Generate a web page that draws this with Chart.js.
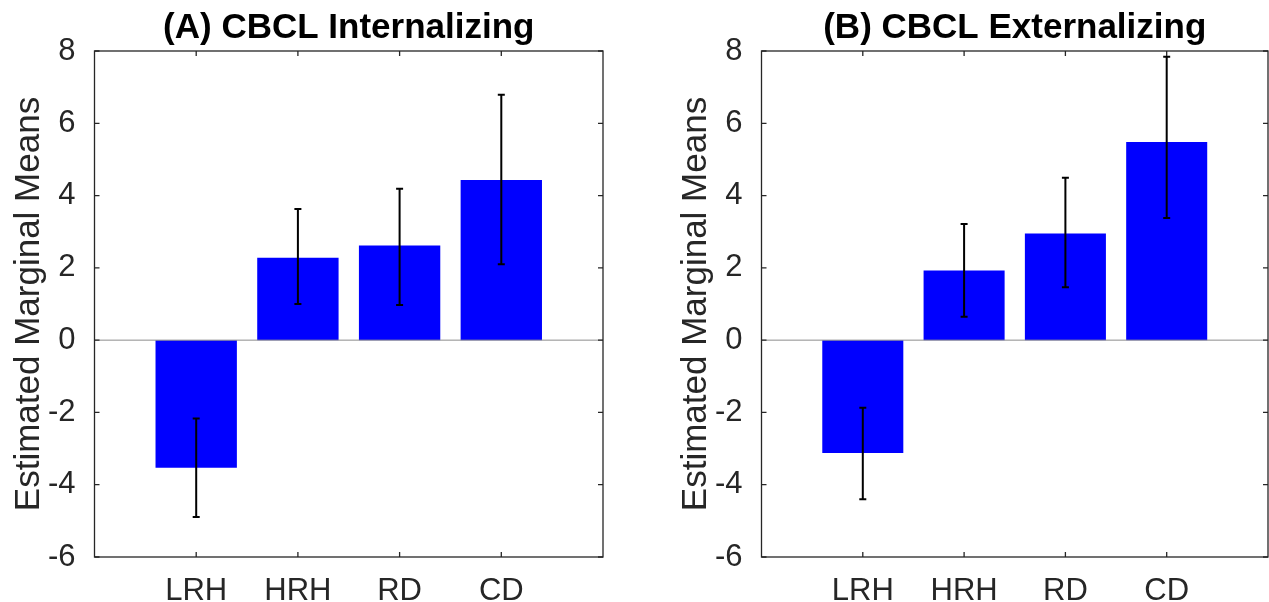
<!DOCTYPE html>
<html>
<head>
<meta charset="utf-8">
<title>CBCL Estimated Marginal Means</title>
<script src="https://cdn.jsdelivr.net/npm/chart.js@4/dist/chart.umd.min.js"></script>
<style>
	html, body { margin: 0; padding: 0; background: #fff; }
	.panel { position: absolute; top: 0; height: 602px; }
	#panel-a { left: 0; width: 634px; }
	#panel-b { left: 634px; width: 635px; }
</style>
</head>
<body>
<div class="panel" id="panel-a"><canvas id="chart-a"></canvas></div>
<div class="panel" id="panel-b"><canvas id="chart-b"></canvas></div>
<script>
const categories = ['LRH', 'HRH', 'RD', 'CD'];
const yTickValues = [-6, -4, -2, 0, 2, 4, 6, 8];

const internalizingMeans = [-3.53, 2.28, 2.62, 4.43];
const internalizingLower = [-4.89, 1.00, 0.97, 2.10];
const internalizingUpper = [-2.17, 3.63, 4.19, 6.79];

const externalizingMeans = [-3.12, 1.93, 2.95, 5.48];
const externalizingLower = [-4.40, 0.65, 1.46, 3.38];
const externalizingUpper = [-1.87, 3.21, 4.49, 7.84];

const FONT = '"Liberation Sans", Arial, Helvetica, sans-serif';
const AXIS_COLOR = '#262626';

// baseline, error bars and the closed box with inward ticks
const matlabAxes = {
	id: 'matlabAxes',
	afterDatasetsDraw(chart, args, opts) {
		const { ctx, chartArea: area, scales: { x, y } } = chart;
		const zero = y.getPixelForValue(0);

		ctx.save();
		ctx.strokeStyle = '#8c8c8c';
		ctx.lineWidth = 1;
		ctx.beginPath();
		ctx.moveTo(area.left, zero);
		ctx.lineTo(area.right, zero);
		ctx.stroke();

		ctx.strokeStyle = '#000';
		ctx.lineWidth = 2;
		opts.lower.forEach((low, i) => {
			const px = x.getPixelForValue(i + 1);
			const top = y.getPixelForValue(opts.upper[i]);
			const bottom = y.getPixelForValue(low);

			ctx.beginPath();
			ctx.moveTo(px, top);
			ctx.lineTo(px, bottom);
			ctx.moveTo(px - 3.5, top);
			ctx.lineTo(px + 3.5, top);
			ctx.moveTo(px - 3.5, bottom);
			ctx.lineTo(px + 3.5, bottom);
			ctx.stroke();
		});

		ctx.strokeStyle = AXIS_COLOR;
		ctx.lineWidth = 1.3;
		ctx.strokeRect(area.left, area.top, area.right - area.left, area.bottom - area.top);

		ctx.beginPath();
		yTickValues.forEach((value) => {
			const py = y.getPixelForValue(value);
			ctx.moveTo(area.left, py);
			ctx.lineTo(area.left + 5, py);
			ctx.moveTo(area.right, py);
			ctx.lineTo(area.right - 5, py);
		});
		categories.forEach((_, i) => {
			const px = x.getPixelForValue(i + 1);
			ctx.moveTo(px, area.bottom);
			ctx.lineTo(px, area.bottom - 5);
			ctx.moveTo(px, area.top);
			ctx.lineTo(px, area.top + 5);
		});
		ctx.stroke();
		ctx.restore();
	},
};

const createPanel = (canvas, title, means, lower, upper, padding) => new Chart(canvas, {
	type: 'bar',
	data: {
		datasets: [{
			data: means.map((value, i) => ({ x: i + 1, y: value })),
			backgroundColor: '#0000ff',
			borderWidth: 0,
			barPercentage: 0.8,
			categoryPercentage: 1,
		}],
	},
	plugins: [matlabAxes],
	options: {
		responsive: true,
		maintainAspectRatio: false,
		devicePixelRatio: 1,
		animation: false,
		layout: { padding },
		plugins: {
			legend: { display: false },
			tooltip: { enabled: false },
			title: {
				display: true,
				text: title,
				fullSize: false,
				color: '#000',
				font: { family: FONT, size: 35, weight: 'bold' },
				padding: { top: 7, bottom: 2 },
			},
			matlabAxes: { lower, upper },
		},
		scales: {
			x: {
				type: 'linear',
				min: 0,
				max: 5,
				offset: false,
				grid: { display: false, offset: false },
				border: { display: false },
				afterBuildTicks: (scale) => {
					scale.ticks = categories.map((_, i) => ({ value: i + 1 }));
				},
				afterFit: (scale) => {
					scale.height = 45;
				},
				ticks: {
					autoSkip: false,
					maxRotation: 0,
					padding: 8,
					color: AXIS_COLOR,
					font: { family: FONT, size: 31 },
					callback: (value) => categories[value - 1] ?? '',
				},
			},
			y: {
				min: -6,
				max: 8,
				grid: { display: false },
				border: { display: false },
				afterBuildTicks: (scale) => {
					scale.ticks = yTickValues.map((value) => ({ value }));
				},
				afterFit: (scale) => {
					scale.width = 94.5;
				},
				ticks: {
					padding: 11,
					color: AXIS_COLOR,
					font: { family: FONT, size: 31 },
				},
				title: {
					display: true,
					text: 'Estimated Marginal Means',
					color: AXIS_COLOR,
					font: { family: FONT, size: 35 },
					padding: { top: 8, bottom: 0 },
				},
			},
		},
	},
});

createPanel(document.getElementById('chart-a'), '(A) CBCL Internalizing',
	internalizingMeans, internalizingLower, internalizingUpper,
	{ left: 0, right: 31, top: 0, bottom: 0 });

createPanel(document.getElementById('chart-b'), '(B) CBCL Externalizing',
	externalizingMeans, externalizingLower, externalizingUpper,
	{ left: 33, right: 1, top: 0, bottom: 0 });
</script>
</body>
</html>
